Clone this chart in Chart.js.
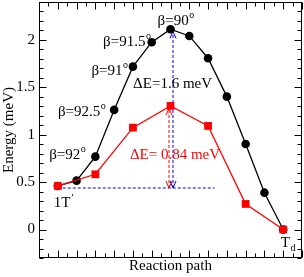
<!DOCTYPE html>
<html><head><meta charset="utf-8">
<script src="https://cdn.jsdelivr.net/npm/chart.js@4/dist/chart.umd.min.js"></script>
<style>html,body{margin:0;padding:0;background:#fff}#wrap{width:304px;height:277px;position:relative}</style>
</head><body><div id="wrap"><canvas id="c"></canvas></div>
<script>
// ---- data ----
const pathSteps = [0,1,2,3,4,5,6,7,8,9,10,11,12];
const blackEnergy = [0.46,0.516,0.769,1.262,1.718,1.976,2.113,2.042,1.807,1.402,0.903,0.389,0];
const redSteps = [0,2,4,6,8,10,12];
const redEnergy = [0.46,0.583,1.075,1.304,1.093,0.27,0];
const yTickValues = [0,0.5,1,1.5,2];
const yTickLabels = ['0','0.5','1','1.5','2'];
const xRange = [-1,13];
const yRange = [-0.3,2.4];
const blueHLine = {x0:0, x1:8.35, y:0.44};
const blueArrow = {x:6.12, y0:0.44, y1:2.09};
const redArrow = {x:5.91, y0:0.44, y1:1.28};
const angleLabels = ['\u03B2=90','\u03B2=91.5','\u03B2=91','\u03B2=92.5','\u03B2=92'];
const angleLabelPos = [[5.31,2.158],[2.41,1.937],[1.79,1.631],[0.01,1.197],[-0.46,0.741]];
const deltaLabels = ['\u0394E=1.6 meV','\u0394E= 0.84 meV'];
const deltaLabelPos = [[4.01,1.49],[3.84,0.741]];
const endLabels = ['1T','T'];
const endLabelPos = [[-0.22,0.242],[11.87,-0.18]];

const FONT = '"Liberation Serif","Times New Roman",serif';
const BLUE = '#0000ff', RED = '#ff0000';

const deco = {
  id:'deco',
  beforeDatasetsDraw(chart){
    const ctx = chart.ctx, xs = chart.scales.x, ys = chart.scales.y;
    ctx.save();
    ctx.lineWidth = 1;
    ctx.setLineDash([3,2]);
    ctx.strokeStyle = BLUE;
    let yy = Math.round(ys.getPixelForValue(blueHLine.y));
    ctx.beginPath(); ctx.moveTo(xs.getPixelForValue(blueHLine.x0), yy); ctx.lineTo(xs.getPixelForValue(blueHLine.x1), yy); ctx.stroke();
    const vArrow = (a, color) => {
      const x = Math.round(xs.getPixelForValue(a.x));
      const yb = Math.round(ys.getPixelForValue(a.y0)), yt = ys.getPixelForValue(a.y1);
      ctx.strokeStyle = color;
      ctx.setLineDash([3,2]);
      ctx.beginPath(); ctx.moveTo(x, yb); ctx.lineTo(x, yt); ctx.stroke();
      ctx.setLineDash([]);
      ctx.beginPath();
      ctx.moveTo(x-3, yt+7); ctx.lineTo(x, yt); ctx.lineTo(x+3, yt+7);
      ctx.moveTo(x-3, yb-7); ctx.lineTo(x, yb); ctx.lineTo(x+3, yb-7);
      ctx.stroke();
    };
    vArrow(blueArrow, BLUE);
    vArrow(redArrow, RED);
    ctx.restore();
  },
  afterDraw(chart){
    const ctx = chart.ctx, xs = chart.scales.x, ys = chart.scales.y, a = chart.chartArea;
    ctx.save();
    ctx.strokeStyle = '#000'; ctx.lineWidth = 1; ctx.setLineDash([]);
    const L = Math.round(a.left)+0.5, R = Math.round(a.right)-0.5, T = Math.round(a.top)+0.5, B = Math.round(a.bottom)-0.5;
    ctx.strokeRect(L, T, R-L, B-T);
    ctx.beginPath();
    for (let k = xRange[0]*2; k <= xRange[1]*2; k++){
      const v = k/2, px = Math.round(xs.getPixelForValue(v))+0.5, len = (k%2===0)?7:4;
      ctx.moveTo(px, B); ctx.lineTo(px, B-len);
      ctx.moveTo(px, T); ctx.lineTo(px, T+len);
    }
    for (let k = Math.round(yRange[0]*10); k <= Math.round(yRange[1]*10); k++){
      const v = k/10, py = Math.round(ys.getPixelForValue(v))+0.5, len = (k%5===0)?7:4;
      ctx.moveTo(L, py); ctx.lineTo(L+len, py);
      ctx.moveTo(R, py); ctx.lineTo(R-len, py);
    }
    ctx.stroke();

    ctx.textBaseline = 'alphabetic'; ctx.textAlign = 'left';
    const rich = (x, y, main, extra, dy, color) => {
      ctx.fillStyle = color;
      ctx.font = '15px ' + FONT;
      ctx.fillText(main, x, y);
      const w = ctx.measureText(main).width;
      if (extra){
        ctx.font = '10px ' + FONT;
        ctx.fillText(extra, x + w + 0.5, y + dy);
      }
    };
    angleLabels.forEach((t,i)=>{
      rich(xs.getPixelForValue(angleLabelPos[i][0]), ys.getPixelForValue(angleLabelPos[i][1]), t, 'o', -7, '#000');
    });
    rich(xs.getPixelForValue(deltaLabelPos[0][0]), ys.getPixelForValue(deltaLabelPos[0][1]), deltaLabels[0], '', 0, '#000');
    rich(xs.getPixelForValue(deltaLabelPos[1][0]), ys.getPixelForValue(deltaLabelPos[1][1]), deltaLabels[1], '', 0, '#ff0000');
    rich(xs.getPixelForValue(endLabelPos[0][0]), ys.getPixelForValue(endLabelPos[0][1]), endLabels[0], '\u2019', -6, '#000');
    rich(xs.getPixelForValue(endLabelPos[1][0]), ys.getPixelForValue(endLabelPos[1][1]), endLabels[1], 'd', 4, '#000');
    ctx.restore();
  }
};

new Chart(document.getElementById('c'), {
  type: 'scatter',
  data: {
    datasets: [
      {
        label: 'red', order: 0,
        data: redSteps.map((s,i)=>({x:s, y:redEnergy[i]})),
        showLine: true, borderColor: '#ff0000', backgroundColor: '#ff0000', borderWidth: 1.3,
        pointStyle: 'rect', pointRadius: 5.5, pointBorderWidth: 0
      },
      {
        label: 'black', order: 1,
        data: pathSteps.map((s,i)=>({x:s, y:blackEnergy[i]})),
        showLine: true, borderColor: '#000', backgroundColor: '#000', borderWidth: 1.3,
        pointStyle: 'circle', pointRadius: 4.3, pointBorderWidth: 0
      }
    ]
  },
  options: {
    responsive: true, maintainAspectRatio: false, animation: false, devicePixelRatio: 1,
    layout: { autoPadding: false, padding: { left: 0, right: 2, top: 2, bottom: 0 } },
    plugins: { legend: { display: false }, tooltip: { enabled: false } },
    scales: {
      x: {
        type: 'linear', min: xRange[0], max: xRange[1],
        grid: { display: false, drawTicks: false }, border: { display: false },
        ticks: { display: false },
        title: { display: true, text: 'Reaction path', color: '#000', font: { family: FONT, size: 15 }, padding: { top: 0, bottom: 2 } },
        afterFit(s){ s.height = 19; s.paddingLeft = 0; s.paddingRight = 0; }
      },
      y: {
        type: 'linear', min: yRange[0], max: yRange[1],
        grid: { display: false, drawTicks: false }, border: { display: false },
        afterBuildTicks(s){ s.ticks = yTickValues.map(v=>({value:v})); },
        ticks: { color: '#000', padding: 4, font: { family: FONT, size: 15 },
          callback(v){ const i = yTickValues.indexOf(v); return i>=0 ? yTickLabels[i] : ''; } },
        title: { display: true, text: 'Energy (meV)', color: '#000', font: { family: FONT, size: 15 }, padding: { top: 0, bottom: 0 } },
        afterFit(s){ s.width = 39; s.paddingTop = 0; s.paddingBottom = 0; }
      }
    }
  },
  plugins: [deco]
});
</script>
</body></html>
